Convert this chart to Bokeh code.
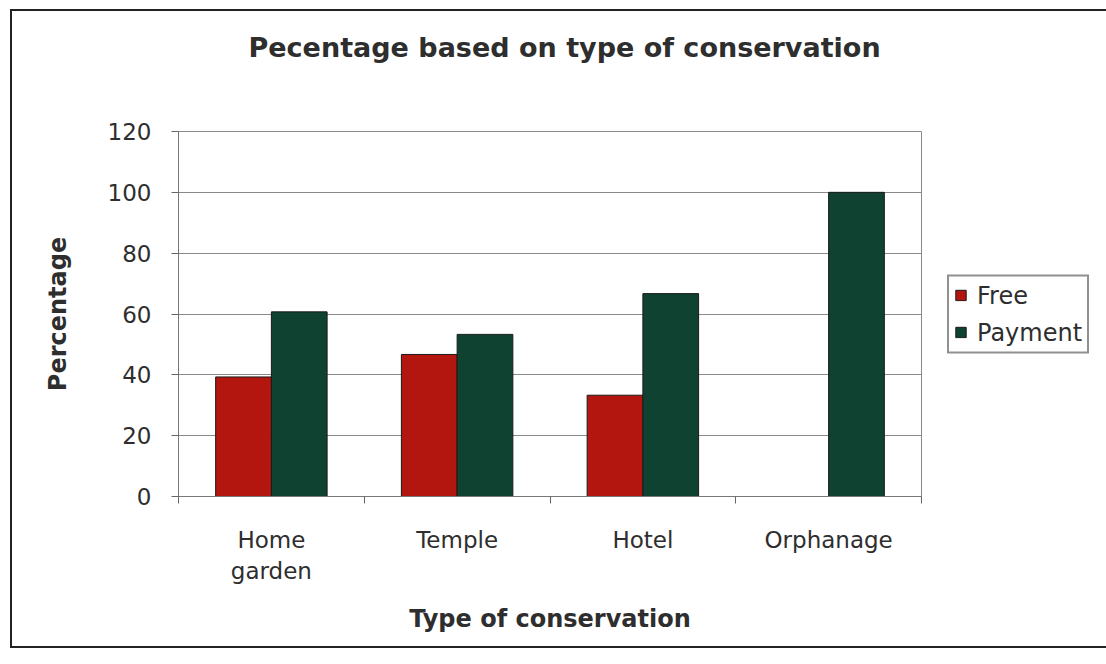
from bokeh.plotting import figure
from bokeh.layouts import column, row
from bokeh.models import (ColumnDataSource, FixedTicker, Legend, LegendItem, Range1d, Spacer)
from bokeh.transform import dodge
from bokeh.embed import file_html
from bokeh.resources import INLINE

categories = ["Home\ngarden", "Temple", "Hotel", "Orphanage"]
free = [39.3, 46.7, 33.3, 0]
payment = [60.7, 53.3, 66.7, 100]
y_ticks = [0, 20, 40, 60, 80, 100, 120]

pos = [i + 0.5 for i in range(len(categories))]
src = ColumnDataSource(dict(pos=pos, cat=categories, free=free, payment=payment))

FONT = "DejaVu Sans"
TXT = "#2e2e2e"

p = figure(frame_width=739, frame_height=361, output_backend="svg", toolbar_location=None,
           x_range=Range1d(0, len(categories)), y_range=Range1d(0, 120),
           min_border_left=166, min_border_right=171, min_border_top=120,
           min_border_bottom=154)
p.styles = {"border": "2px solid #222222"}

p.title.text = "Pecentage based on type of conservation\n\u00a0\n\u00a0"
p.title.text_font = FONT
p.title.text_font_size = "27px"
p.title.text_font_style = "bold"
p.title.text_color = TXT
p.title.text_line_height = 1.1
p.title.align = "left"
p.title.offset = 70
p.title.standoff = 1

r1 = p.vbar(x=dodge("pos", -0.15, range=p.x_range), top="free", width=0.3, source=src,
            fill_color="#B3160F", line_color="#1a1a1a", line_width=1)
r2 = p.vbar(x=dodge("pos", 0.15, range=p.x_range), top="payment", width=0.3, source=src,
            fill_color="#0F4230", line_color="#1a1a1a", line_width=1)

# axes
p.xaxis.ticker = FixedTicker(ticks=pos, minor_ticks=list(range(len(categories) + 1)))
p.xaxis.major_label_overrides = {x: c for x, c in zip(pos, categories)}
p.xaxis.major_tick_line_color = None
p.xaxis.minor_tick_line_color = "#666666"
p.xaxis.minor_tick_out = 7
p.xaxis.minor_tick_in = 0
p.xaxis.axis_line_color = "#777777"
p.xaxis.major_label_standoff = 23
p.xaxis.axis_label = "Type of conservation"
p.xaxis.axis_label_standoff = 18

p.yaxis.ticker = FixedTicker(ticks=y_ticks)
p.yaxis.minor_tick_line_color = None
p.yaxis.major_tick_line_color = "#666666"
p.yaxis.major_tick_out = 7
p.yaxis.major_tick_in = 0
p.yaxis.axis_line_color = "#777777"
p.yaxis.major_label_standoff = 20
p.yaxis.axis_label = "Percentage"
p.yaxis.axis_label_standoff = 33

for ax in (p.xaxis, p.yaxis):
    ax.major_label_text_font = FONT
    ax.major_label_text_font_size = "23px"
    ax.major_label_text_color = TXT
    ax.axis_label_text_font = FONT
    ax.axis_label_text_font_size = "24px"
    ax.axis_label_text_font_style = "bold"
    ax.axis_label_text_color = TXT

p.xgrid.grid_line_color = None
p.ygrid.grid_line_color = "#8a8a8a"
p.ygrid.grid_line_width = 1
p.outline_line_color = "#8a8a8a"
p.outline_line_width = 1

legend = Legend(items=[LegendItem(label="Free", renderers=[r1]),
                       LegendItem(label="Payment", renderers=[r2])],
                location="center_left")
legend.label_text_font = FONT
legend.label_text_font_size = "24px"
legend.label_text_color = TXT
legend.glyph_width = 13
legend.glyph_height = 13
legend.label_standoff = 10
legend.spacing = 9
legend.padding = 5
legend.margin = 26
legend.border_line_color = "#222222"
legend.border_line_width = 2
legend.background_fill_alpha = 1
p.add_layout(legend, "right")

page = column(Spacer(width=10, height=9), row(Spacer(width=10, height=10), p))
open("out.html", "w").write(file_html(page, INLINE))
